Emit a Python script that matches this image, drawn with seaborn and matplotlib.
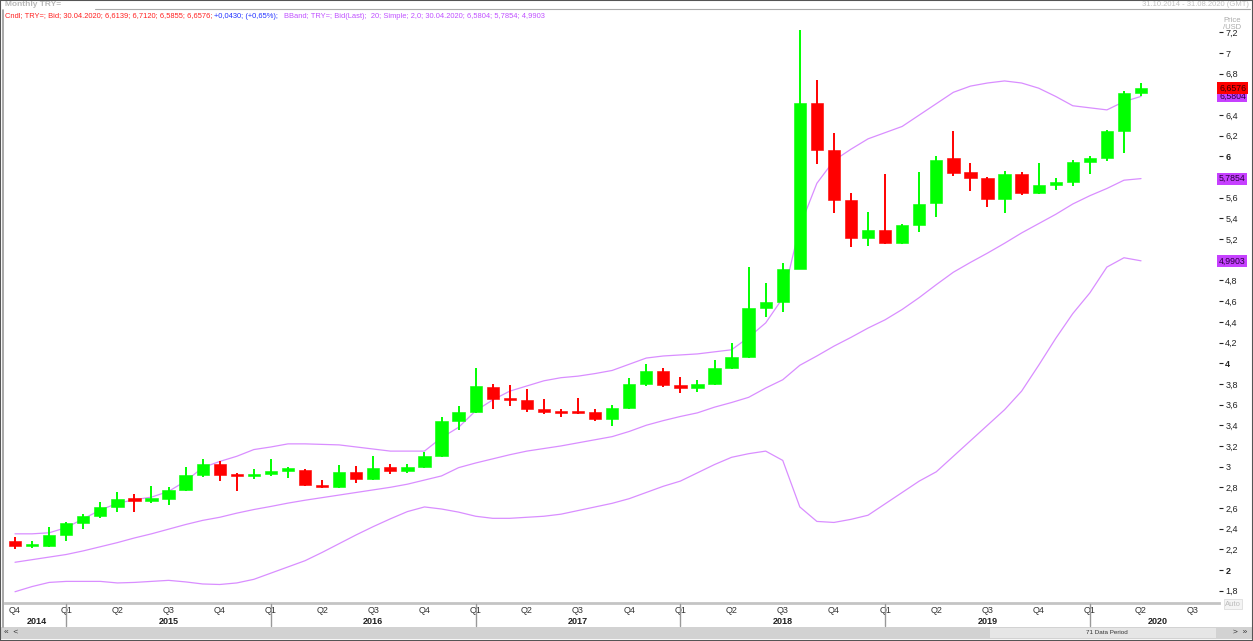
import numpy as np
import pandas as pd
import seaborn as sns
import matplotlib
matplotlib.use("Agg")
import matplotlib.pyplot as plt
import matplotlib.transforms as mtransforms
from matplotlib.patches import Rectangle
from matplotlib.lines import Line2D

# monthly TRY= bid candles, Oct 2014 - Apr 2020
months = pd.date_range("2014-10-01", "2020-04-01", freq="MS")
opens = [2.28, 2.23, 2.235, 2.335, 2.45, 2.52, 2.61, 2.685, 2.67, 2.685, 2.77, 2.92,
         3.03, 2.925, 2.91, 2.925, 2.96, 2.97, 2.82, 2.80, 2.95, 2.88, 3.00, 2.96,
         3.00, 3.10, 3.44, 3.53, 3.77, 3.655, 3.64, 3.56, 3.535, 3.525, 3.53, 3.46,
         3.57, 3.80, 3.925, 3.79, 3.765, 3.80, 3.95, 4.06, 4.53, 4.59, 4.915, 6.52,
         6.06, 5.58, 5.215, 5.29, 5.16, 5.34, 5.55, 5.98, 5.85, 5.79, 5.585, 5.83,
         5.645, 5.72, 5.75, 5.95, 5.985, 6.245, 6.6139]
highs = [2.32, 2.28, 2.42, 2.46, 2.54, 2.66, 2.75, 2.74, 2.81, 2.80, 3.00, 3.07,
         3.05, 2.94, 2.98, 3.07, 3.00, 2.98, 2.87, 3.02, 3.01, 3.10, 3.03, 3.03,
         3.14, 3.48, 3.59, 3.95, 3.80, 3.79, 3.75, 3.65, 3.56, 3.66, 3.56, 3.60,
         3.86, 3.99, 3.95, 3.87, 3.84, 4.03, 4.20, 4.93, 4.78, 4.97, 7.22, 6.74,
         6.23, 5.65, 5.46, 5.83, 5.35, 5.85, 6.00, 6.25, 5.94, 5.80, 5.86, 5.85,
         5.94, 5.79, 5.97, 6.00, 6.26, 6.63, 6.7120]
lows = [2.20, 2.21, 2.22, 2.28, 2.40, 2.50, 2.56, 2.56, 2.65, 2.63, 2.76, 2.90,
        2.86, 2.76, 2.88, 2.91, 2.89, 2.81, 2.79, 2.79, 2.84, 2.87, 2.93, 2.94,
        2.99, 3.09, 3.35, 3.52, 3.56, 3.59, 3.53, 3.51, 3.48, 3.51, 3.44, 3.39,
        3.56, 3.78, 3.77, 3.71, 3.72, 3.79, 3.94, 4.05, 4.45, 4.50, 4.91, 5.93,
        5.45, 5.12, 5.13, 5.155, 5.155, 5.27, 5.41, 5.81, 5.67, 5.51, 5.45, 5.63,
        5.64, 5.68, 5.71, 5.83, 5.96, 6.03, 6.5855]
closes = [2.23, 2.235, 2.335, 2.45, 2.52, 2.61, 2.685, 2.67, 2.685, 2.77, 2.92, 3.03,
          2.92, 2.91, 2.925, 2.96, 2.97, 2.82, 2.80, 2.95, 2.88, 2.99, 2.96, 3.00,
          3.10, 3.44, 3.53, 3.78, 3.655, 3.64, 3.56, 3.53, 3.52, 3.52, 3.46, 3.57,
          3.80, 3.92, 3.79, 3.765, 3.80, 3.95, 4.06, 4.53, 4.59, 4.915, 6.52, 6.06,
          5.58, 5.215, 5.29, 5.16, 5.34, 5.54, 5.97, 5.84, 5.79, 5.59, 5.83, 5.645,
          5.72, 5.75, 5.95, 5.985, 6.245, 6.61, 6.6576]

# Bollinger band (20, 2.0)
band_upper = [2.35, 2.35, 2.36, 2.41, 2.495, 2.58, 2.645, 2.68, 2.705, 2.76, 2.86, 2.99,
              3.05, 3.10, 3.165, 3.19, 3.22, 3.22, 3.215, 3.21, 3.19, 3.17, 3.15, 3.15,
              3.15, 3.28, 3.38, 3.54, 3.645, 3.73, 3.78, 3.83, 3.86, 3.875, 3.90, 3.93,
              3.99, 4.05, 4.07, 4.08, 4.09, 4.11, 4.13, 4.25, 4.39, 4.63, 5.32, 5.74,
              5.96, 6.07, 6.17, 6.23, 6.29, 6.40, 6.51, 6.62, 6.68, 6.71, 6.73, 6.71,
              6.66, 6.58, 6.49, 6.47, 6.45, 6.53, 6.5804]
band_mid = [2.075, 2.10, 2.125, 2.15, 2.185, 2.225, 2.265, 2.31, 2.35, 2.395, 2.44, 2.48,
            2.51, 2.55, 2.585, 2.615, 2.647, 2.675, 2.70, 2.725, 2.75, 2.775, 2.80, 2.83,
            2.87, 2.91, 2.99, 3.035, 3.075, 3.115, 3.15, 3.175, 3.20, 3.23, 3.26, 3.29,
            3.34, 3.40, 3.445, 3.485, 3.52, 3.575, 3.62, 3.67, 3.76, 3.84, 3.98, 4.07,
            4.165, 4.25, 4.34, 4.42, 4.52, 4.635, 4.76, 4.88, 4.975, 5.065, 5.16, 5.26,
            5.35, 5.44, 5.54, 5.62, 5.69, 5.77, 5.7854]
band_lower = [1.79, 1.84, 1.88, 1.89, 1.89, 1.89, 1.875, 1.88, 1.89, 1.90, 1.885, 1.865,
              1.86, 1.875, 1.91, 1.97, 2.03, 2.09, 2.17, 2.255, 2.34, 2.42, 2.495, 2.565,
              2.61, 2.59, 2.56, 2.52, 2.50, 2.50, 2.51, 2.52, 2.54, 2.575, 2.61, 2.645,
              2.69, 2.75, 2.81, 2.86, 2.94, 3.02, 3.09, 3.125, 3.15, 3.06, 2.61, 2.47,
              2.46, 2.49, 2.53, 2.64, 2.75, 2.86, 2.95, 3.10, 3.25, 3.40, 3.55, 3.73,
              3.98, 4.24, 4.48, 4.68, 4.93, 5.02, 4.9903]

quarter_labels = ["Q4"] + ["Q1", "Q2", "Q3", "Q4"] * 5 + ["Q1", "Q2", "Q3"]
years = ["2014", "2015", "2016", "2017", "2018", "2019", "2020"]
year_label_pos = [1.3, 9, 21, 33, 45, 57, 67]
price_ticks = [1.8, 2, 2.2, 2.4, 2.6, 2.8, 3, 3.2, 3.4, 3.6, 3.8, 4, 4.2, 4.4, 4.6,
               4.8, 5.2, 5.4, 5.6, 6, 6.2, 6.4, 6.8, 7, 7.2]

df = pd.DataFrame({"month": months, "open": opens, "high": highs, "low": lows,
                   "close": closes, "upper": band_upper, "mid": band_mid,
                   "lower": band_lower})
df["idx"] = np.arange(len(df))

sns.set_style("white")
plt.rcParams["font.family"] = ["Liberation Sans", "DejaVu Sans"]

W, H = 1253, 641
fig = plt.figure(figsize=(W / 100, H / 100), dpi=100)


def fx(px):
    return px / W


def fy(py):
    return 1 - py / H


ax = fig.add_axes([fx(5), fy(603), fx(1219) - fx(5), fy(22) - fy(603)])

# bands
band_col = "#D98EFF"
for col in ["upper", "mid", "lower"]:
    sns.lineplot(data=df, x="idx", y=col, ax=ax, color=band_col, linewidth=0.9,
                 legend=False, zorder=2)

# candles
up = df["close"] >= df["open"]
colors = np.where(up, "#00FF00", "#FF0000")
ax.vlines(df["idx"], df["low"], df["high"], colors=colors, linewidth=1.4, zorder=3)
body_lo = df[["open", "close"]].min(axis=1)
body_h = (df["close"] - df["open"]).abs().clip(lower=0.022)
ax.bar(df["idx"], body_h, bottom=body_lo, width=0.72, color=colors,
       edgecolor=colors, linewidth=0.4, zorder=4)

ax.set_xlim(-0.586, 70.57)
ax.set_ylim(1.681, 7.30)
ax.set_xlabel("")
ax.set_ylabel("")

for s in ["top", "left", "right"]:
    ax.spines[s].set_visible(False)
ax.spines["bottom"].set_color("#C4C4C4")
ax.spines["bottom"].set_linewidth(2)

# right price axis
ax.yaxis.tick_right()
ax.set_yticks(price_ticks)
ax.set_yticklabels([f"{v:g}".replace(".", ",") for v in price_ticks])
ax.tick_params(axis="y", direction="out", length=3, width=0.8, pad=1.5,
               labelsize=6.5, colors="#222222")
for lab, v in zip(ax.get_yticklabels(), price_ticks):
    if v in (2, 4, 6):
        lab.set_fontweight("bold")

# quarter axis
q_pos = np.arange(0, 70, 3)
ax.set_xticks(q_pos)
ax.set_xticklabels(quarter_labels)
ax.set_xticks(np.arange(0, 70), minor=True)
ax.tick_params(axis="x", which="major", direction="in", length=3, width=0.8,
               pad=2.5, labelsize=6.5, colors="#333333")
ax.tick_params(axis="x", which="minor", direction="in", length=2, width=0.6,
               colors="#555555")

trans = mtransforms.blended_transform_factory(ax.transData, fig.transFigure)
for y, pos in zip(years, year_label_pos):
    fig.text(pos, fy(621), y, transform=trans, ha="center", va="center",
             fontsize=6.5, fontweight="bold", color="#222222")
for pos in [3, 15, 27, 39, 51, 63]:
    fig.add_artist(Line2D([pos, pos], [fy(604), fy(626)], transform=trans,
                          color="#999999", linewidth=1))

# last value boxes
vtrans = mtransforms.blended_transform_factory(ax.transAxes, ax.transData)
box_kw = dict(transform=vtrans, ha="left", va="center", fontsize=6.3, clip_on=False)
ax.text(1.0, band_lower[-1], "4,9903", color="#2a0040",
        bbox=dict(boxstyle="square,pad=0.18", fc="#C640FF", ec="none"), zorder=6, **box_kw)
ax.text(1.0, band_mid[-1], "5,7854", color="#2a0040",
        bbox=dict(boxstyle="square,pad=0.18", fc="#C640FF", ec="none"), zorder=6, **box_kw)
ax.text(1.0, band_upper[-1], "6,5804", color="#2a0040",
        bbox=dict(boxstyle="square,pad=0.18", fc="#C640FF", ec="none"), zorder=6, **box_kw)
ax.text(1.0, closes[-1], "6,6576", color="#3a0000",
        bbox=dict(boxstyle="square,pad=0.18", fc="#FF0000", ec="none"), zorder=7, **box_kw)

# header
fig.text(fx(5), fy(5), "Monthly TRY=", fontsize=6, color="#B8B8B8",
         fontweight="bold", va="center")
fig.text(fx(1249), fy(5), "31.10.2014 - 31.08.2020 (GMT)", fontsize=5.5,
         color="#C0C0C0", va="center", ha="right")
fig.add_artist(Line2D([fx(95), fx(1250)], [fy(9), fy(9)], color="#AAAAAA",
                      linewidth=0.8))
fig.text(fx(5), fy(16), "Cndl; TRY=; Bid; 30.04.2020; 6,6139; 6,7120; 6,5855; 6,6576;",
         fontsize=5.4, color="#FF2020", va="center")
fig.text(fx(214), fy(16), "+0,0430; (+0,65%);", fontsize=5.4, color="#2030FF",
         va="center")
fig.text(fx(284), fy(16),
         "BBand; TRY=; Bid(Last);  20; Simple; 2,0; 30.04.2020; 6,5804; 5,7854; 4,9903",
         fontsize=5.4, color="#C050FF", va="center")
fig.text(fx(1232), fy(24), "Price\n/USD", fontsize=5.5, color="#AAAAAA",
         ha="center", va="center", linespacing=1.1)
fig.text(fx(1233), fy(604), "Auto", fontsize=5.5, color="#BBBBBB", ha="center",
         va="center", bbox=dict(boxstyle="square,pad=0.2", fc="#F4F4F4",
                                ec="#DDDDDD", lw=0.6))

# scroll bar
fig.add_artist(Rectangle((0, fy(639)), 1, fy(627) - fy(639), transform=fig.transFigure,
                         fc="#D2D2D2", ec="none"))
fig.add_artist(Rectangle((fx(990), fy(638)), fx(1216) - fx(990), fy(628) - fy(638),
                         transform=fig.transFigure, fc="#E6E6E6", ec="none"))
fig.text(fx(1107), fy(633), "71 Data Period", fontsize=4.5, color="#333333",
         ha="center", va="center")
fig.text(fx(11), fy(633), "«  <", fontsize=6, color="#333333", ha="center", va="center")
fig.text(fx(1240), fy(633), ">  »", fontsize=6, color="#333333", ha="center",
         va="center")

# frame
fig.add_artist(Line2D([fx(2.5), fx(2.5)], [fy(10), fy(627)], color="#999999",
                      linewidth=1.2))
fig.add_artist(Rectangle((0, 0), 1, 1, transform=fig.transFigure, fill=False,
                         ec="#555555", lw=1.5))

fig.savefig("out.png", dpi=100)
